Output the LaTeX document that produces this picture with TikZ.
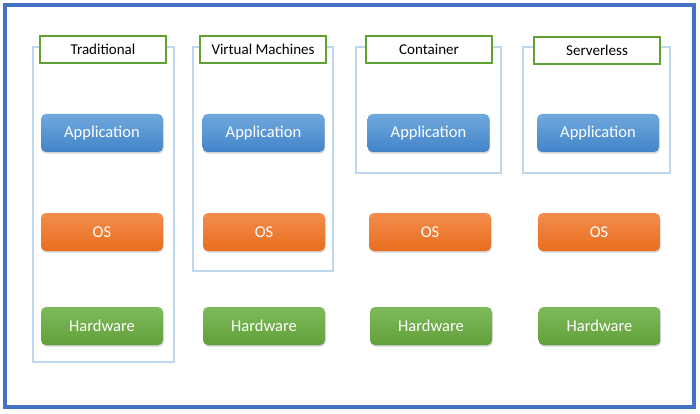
\documentclass[tikz,border=0pt]{standalone}
\usepackage{fontspec}
\setmainfont{Carlito}
\usetikzlibrary{shadows}
\definecolor{borderblue}{HTML}{4472C4}
\definecolor{framblue}{HTML}{BDD7EE}
\definecolor{titlegreen}{HTML}{5EA331}
\begin{document}
\begin{tikzpicture}[x=1pt,y=-1pt,
    frame/.style={draw=framblue,line width=2.2pt},
    title/.style={draw=titlegreen,line width=1.3pt,fill=white,
                  minimum width=126pt,minimum height=27pt,font=\fontsize{15}{17}\selectfont},
    layer/.style={rounded corners=5pt,minimum width=122pt,minimum height=38pt,
                  text=white,font=\fontsize{16.5}{19}\selectfont,
                  drop shadow={shadow xshift=0.6pt,shadow yshift=-1.6pt,opacity=0.35}},
    app/.style={layer,top color={rgb,255:red,112;green,168;blue,222},bottom color={rgb,255:red,66;green,132;blue,200}},
    os/.style={layer,top color={rgb,255:red,243;green,140;blue,78},bottom color={rgb,255:red,232;green,110;blue,28}},
    hw/.style={layer,top color={rgb,255:red,126;green,186;blue,92},bottom color={rgb,255:red,96;green,160;blue,56}}]
    \useasboundingbox (0,0) rectangle (700,414);
    \draw[borderblue,line width=3.2pt] (5,5) rectangle (694,407);

    \draw[frame] (33,47) rectangle (174,362);
    \draw[frame] (193,47) rectangle (333,271);
    \draw[frame] (356,47) rectangle (501,173);
    \draw[frame] (523,47) rectangle (670,173);

    \node[title] (trad) at (103,49.5) {Traditional};
    \node[title] (vm) at (263,49.5) {Virtual Machines};
    \node[title] (cont) at (429,49.5) {Container};
    \node[title] (sless) at (597,50.5) {Serverless};

    \node[app] (app1) at (102,133) {Application};
    \node[app] (app2) at (263.5,133) {Application};
    \node[app] (app3) at (428.5,133) {Application};
    \node[app] (app4) at (598,133) {Application};

    \node[os] (os1) at (102,232) {OS};
    \node[os] (os2) at (264,232) {OS};
    \node[os] (os3) at (430,232) {OS};
    \node[os] (os4) at (599,232) {OS};

    \node[hw] (hw1) at (102,326) {Hardware};
    \node[hw] (hw2) at (264,326) {Hardware};
    \node[hw] (hw3) at (431,326) {Hardware};
    \node[hw] (hw4) at (599.5,326) {Hardware};
\end{tikzpicture}
\end{document}
